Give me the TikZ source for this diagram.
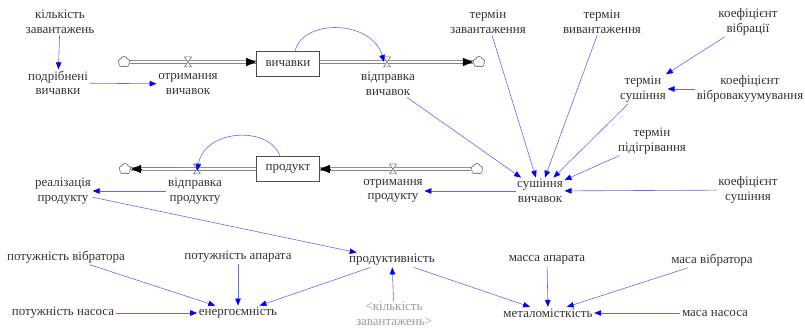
\documentclass[tikz,border=0pt]{standalone}
\usepackage{fontspec}
\setmainfont{Liberation Serif}
\usetikzlibrary{arrows.meta,shapes.symbols,positioning}

\tikzset
{
	var/.style =
	{
		align			= center,
		text			= black!80,
		inner sep		= 1.5pt,
		font			= \fontsize{13}{14.5}\selectfont
	},
	shadowvar/.style	= {var, text = black!40},
	stockbox/.style =
	{
		var,
		draw			= black!70,
		line width		= 0.6pt,
		minimum width	= 63pt,
		minimum height	= 25pt
	},
	link/.style =
	{
		draw			= blue!60,
		line width		= 0.6pt,
		-{Triangle[length = 7pt, width = 5.5pt, blue]}
	},
	pipe/.style =
	{
		draw			= black!75,
		line width		= 0.6pt,
		double			= white,
		double distance	= 2pt
	},
	pipetip/.style =
	{
		draw			= black,
		line width		= 0.6pt,
		-{Triangle[length = 10pt, width = 8pt, black]}
	},
	sink/.style =
	{
		cloud,
		cloud puffs		= 5,
		cloud puff arc	= 150,
		cloud ignores aspect,
		draw			= black!60,
		fill			= white,
		line width		= 0.5pt,
		inner sep		= 0pt,
		minimum width	= 12pt,
		minimum height	= 11pt
	},
	valve/.pic =
	{
		\draw[black!60, line width = 0.5pt, fill = white]
			(-3.5pt,5pt) -- (3.5pt,5pt) -- (-3.5pt,-5pt) -- (3.5pt,-5pt) -- cycle;
	}
}

\begin{document}
\begin{tikzpicture}[x = 1pt, y = -1pt]
		%
		\useasboundingbox (0,0) rectangle (805,331);
		%
		% stocks, clouds and valves
		\node[stockbox]	(vychavky)	at (288,64)		{вичавки};
		\node[stockbox]	(produkt)	at (288,169)	{продукт};
		\node[sink]		(srcV)		at (124,62)		{};
		\node[sink]		(sinkV)		at (479,62)		{};
		\node[sink]		(srcP)		at (477,169)	{};
		\node[sink]		(sinkP)		at (125,169)	{};
		\coordinate		(valveOV)	at (188,62);
		\coordinate		(valveVV)	at (387,62);
		\coordinate		(valveOP)	at (393,169);
		\coordinate		(valveVP)	at (197,169);
		%
		% flows
		\draw[pipe]	(srcV) -- (srcV -| vychavky.west);
		\draw[pipe]	(vychavky.east |- sinkV) -- (sinkV);
		\draw[pipe]	(srcP) -- (srcP -| produkt.east);
		\draw[pipe]	(produkt.west |- sinkP) -- (sinkP);
		\node[sink]	at (srcV) {};
		\node[sink]	at (sinkV) {};
		\node[sink]	at (srcP) {};
		\node[sink]	at (sinkP) {};
		\draw[pipetip]	([xshift = -10pt]srcV -| vychavky.west) -- (srcV -| vychavky.west);
		\draw[pipetip]	([xshift = -10pt]sinkV.west) -- (sinkV.west);
		\draw[pipetip]	([xshift = 10pt]srcP -| produkt.east) -- (srcP -| produkt.east);
		\draw[pipetip]	([xshift = 10pt]sinkP.east) -- (sinkP.east);
		\pic at (valveOV) {valve};
		\pic at (valveVV) {valve};
		\pic at (valveOP) {valve};
		\pic at (valveVP) {valve};
		%
		% variables
		\node[var]	(kilkist)	at (60,22)		{кількість\\завантажень};
		\node[var]	(podribn)	at (58,83)		{подрібнені\\вичавки};
		\node[var]	(otrymV)	at (188,84)		{отримання\\вичавок};
		\node[var]	(vidprV)	at (388,84)		{відправка\\вичавок};
		\node[var]	(terZav)	at (488,22)		{термін\\завантаження};
		\node[var]	(terVyv)	at (602,22)		{термін\\вивантаження};
		\node[var]	(koefVib)	at (748,22)		{коефіцієнт\\вібрації};
		\node[var]	(terSush)	at (643,89)		{термін\\сушіння};
		\node[var]	(koefVV)	at (750,89)		{коефіцієнт\\вібровакуумування};
		\node[var]	(terPid)	at (652,141)	{термін\\підігрівання};
		\node[var]	(sushV)		at (540,191)	{сушіння\\вичавок};
		\node[var]	(koefSush)	at (748,190)	{коефіцієнт\\сушіння};
		\node[var]	(otrymP)	at (393,191)	{отримання\\продукту};
		\node[var]	(vidprP)	at (195,191)	{відправка\\продукту};
		\node[var]	(realiz)	at (63,191)		{реалізація\\продукту};
		\node[var]	(produkt2)	at (392,260)	{продуктивність};
		\node[shadowvar]	(kilkist2)	at (394,314)	{<кількість\\завантажень>};
		\node[var]	(potVib)	at (66,257)		{потужність вібратора};
		\node[var]	(potApar)	at (238,257)	{потужність апарата};
		\node[var]	(potNas)	at (63,313)		{потужність насоса};
		\node[var]	(energ)		at (238,313)	{енергоємність};
		\node[var]	(masApar)	at (547,260)	{масса апарата};
		\node[var]	(masVib)	at (712,260)	{маса вібратора};
		\node[var]	(masNas)	at (715,313)	{маса насоса};
		\node[var]	(metal)		at (548,313)	{металомісткість};
		%
		% links
		\draw[link]	([xshift = 7pt]vychavky.north) .. controls (303,18) and (372,20) .. ([xshift = -3pt]valveVV);
		\draw[link]	([xshift = -8pt]produkt.north) .. controls (270,126) and (205,128) .. ([yshift = -2pt]valveVP);
		\draw[link]	(kilkist) -- (podribn);
		\draw[link]	(podribn) -- (otrymV);
		\draw[link]	(vidprV) -- (sushV);
		\draw[link]	(terZav) -- (sushV);
		\draw[link]	(terVyv) -- (sushV);
		\draw[link]	(terSush) -- (sushV);
		\draw[link]	(terPid) -- (sushV);
		\draw[link]	(koefSush) -- (sushV);
		\draw[link]	(koefVib) -- (terSush);
		\draw[link]	(koefVV) -- (terSush);
		\draw[link]	(sushV) -- (otrymP);
		\draw[link]	(vidprP) -- (realiz);
		\draw[link]	(realiz) -- (produkt2);
		\draw[link]	(potVib) -- (energ);
		\draw[link]	(potApar) -- (energ);
		\draw[link]	(potNas) -- (energ);
		\draw[link]	(produkt2) -- (energ);
		\draw[link]	(kilkist2) -- (produkt2);
		\draw[link]	(produkt2) -- (metal);
		\draw[link]	(masApar) -- (metal);
		\draw[link]	(masVib) -- (metal);
		\draw[link]	(masNas) -- (metal);
		%
	\end{tikzpicture}
\end{document}
